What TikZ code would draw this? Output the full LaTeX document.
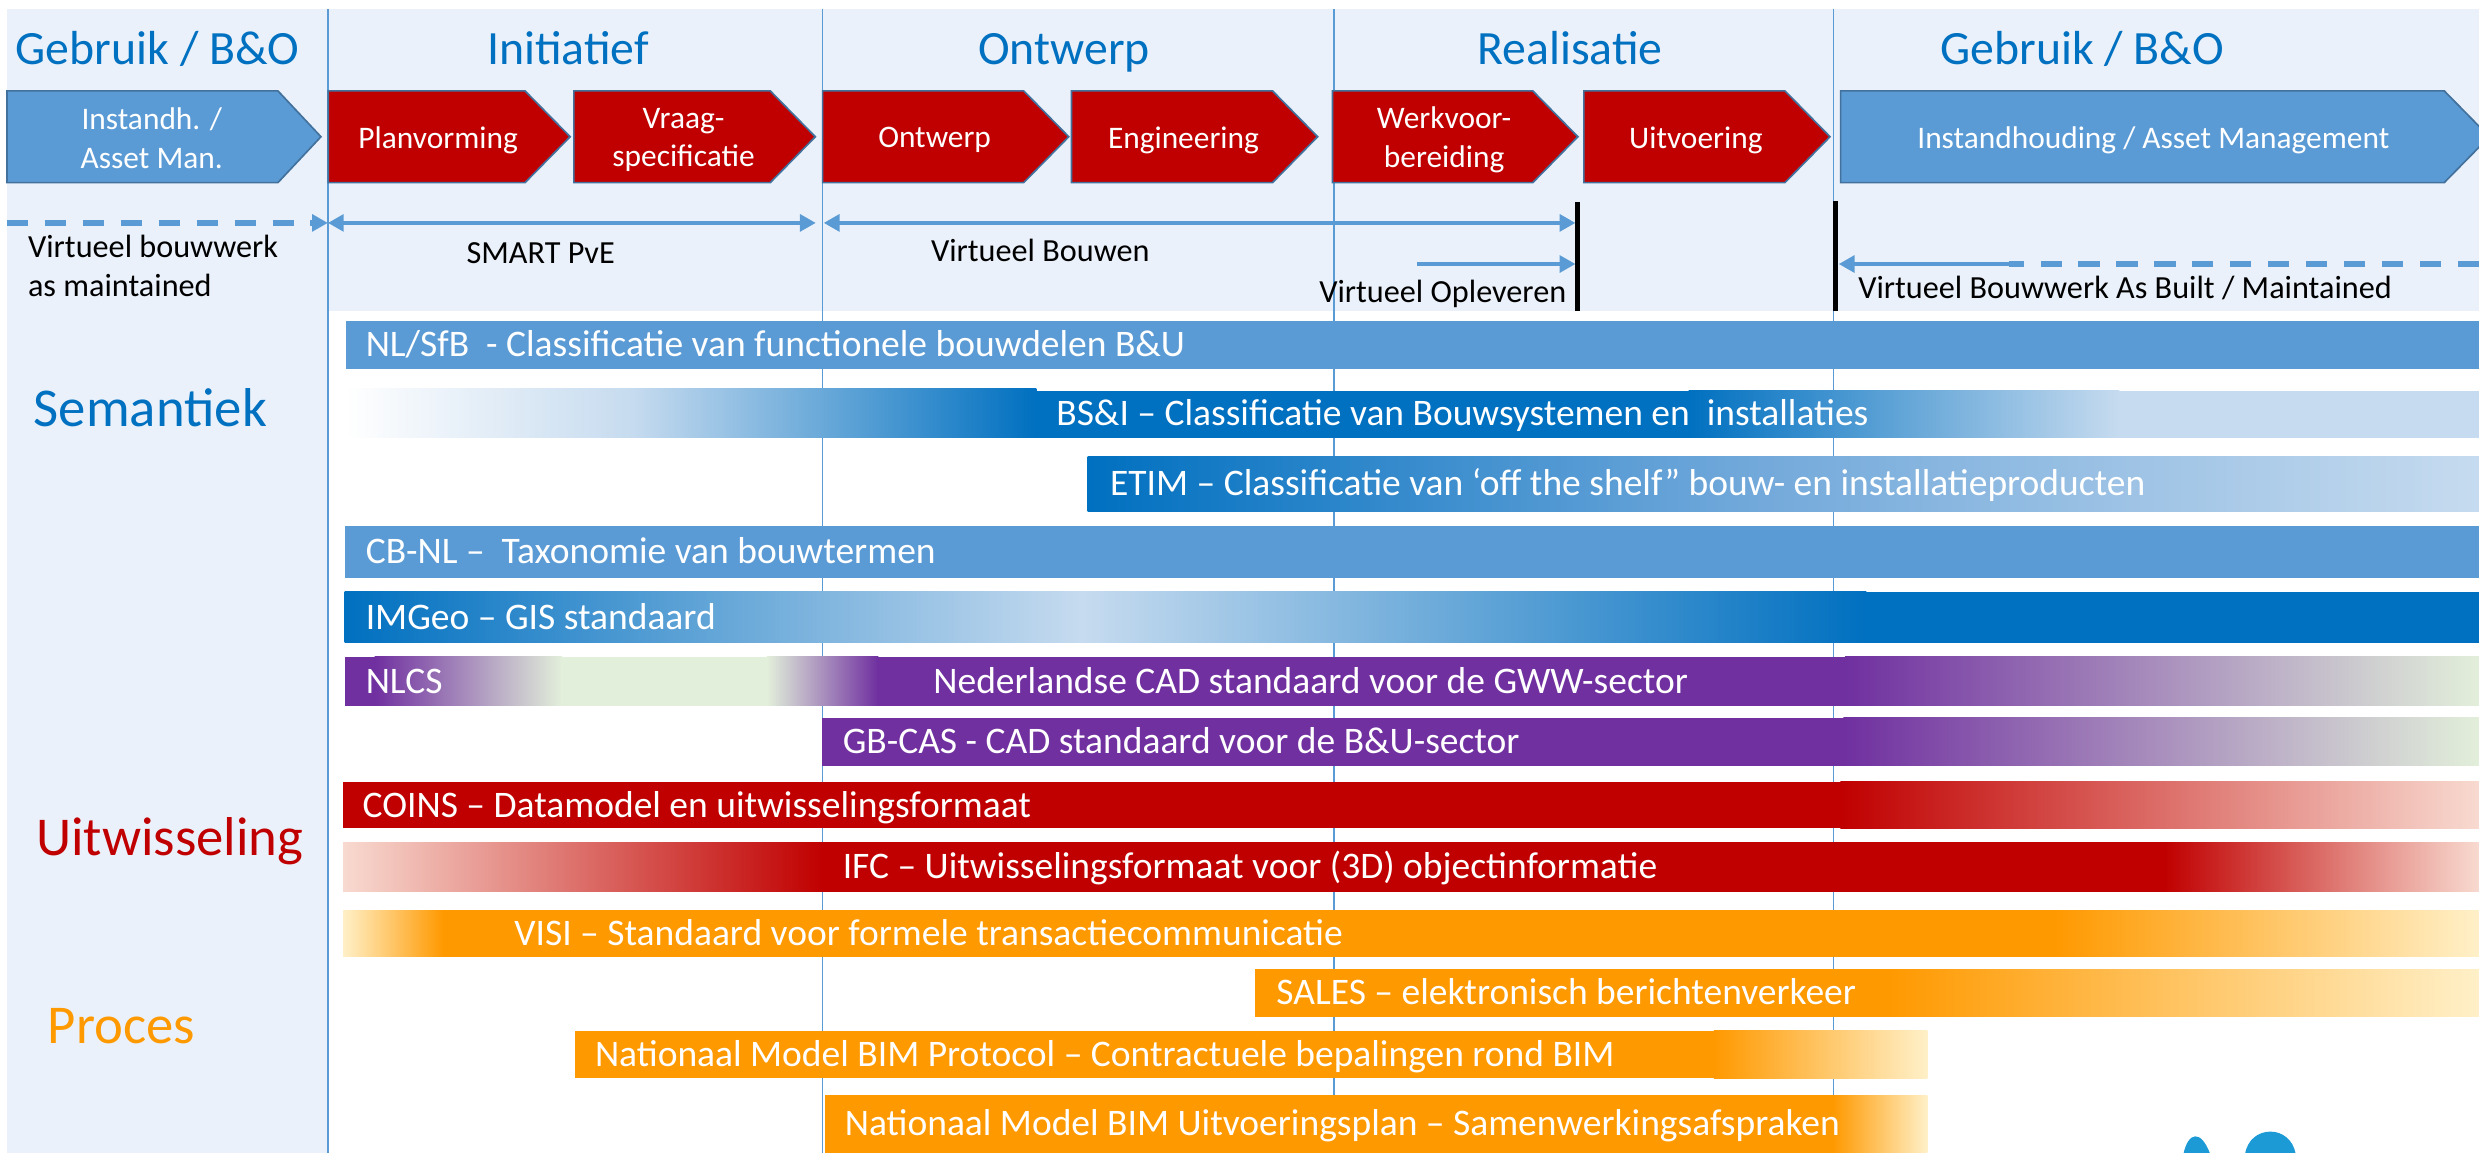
\documentclass[tikz,border=0pt]{standalone}
\usepackage{fontspec}
\setmainfont{Carlito}
\usetikzlibrary{arrows.meta}

\definecolor{hdrbg}{HTML}{EAF1FA}
\definecolor{titleblue}{HTML}{0070C0}
\definecolor{midblue}{HTML}{5B9BD5}
\definecolor{lightblue}{HTML}{C6DBEF}
\definecolor{chevborder}{HTML}{41719C}
\definecolor{darkred}{HTML}{C00000}
\definecolor{lightred}{HTML}{F8DAD0}
\definecolor{cadpurple}{HTML}{7030A0}
\definecolor{lightgreen}{HTML}{E2EFDA}
\definecolor{procorange}{HTML}{FF9900}
\definecolor{lightyellow}{HTML}{FFF0C8}
\definecolor{logoblue}{HTML}{1B9AD6}

\begin{document}
\begin{tikzpicture}[x=0.02cm, y=-0.02cm,
    header/.style={font=\fontsize{17.2}{20}\selectfont, text=titleblue, anchor=base, inner sep=0pt},
    chevtext/.style={font=\fontsize{11.3}{13.8}\selectfont, text=white, align=center, inner sep=0pt},
    note/.style={font=\fontsize{11.6}{14}\selectfont, anchor=base west, align=left, inner sep=0pt},
    bartext/.style={font=\fontsize{13.5}{16}\selectfont, text=white, anchor=base west, inner sep=0pt},
    side/.style={font=\fontsize{19.7}{23}\selectfont, anchor=base west, inner sep=0pt},
    phaseline/.style={midblue, line width=0.6pt},
    redchev/.style={fill=darkred, draw=chevborder, line width=0.6pt},
    bluechev/.style={fill=midblue, draw=chevborder, line width=0.6pt},
    flow/.style={midblue, line width=1.7pt},
    flowdash/.style={midblue, line width=2pt, dash pattern=on 0.268cm off 0.212cm},
    flowtip/.style={-{Triangle[length=0.2cm,width=0.21cm]}},
    bothtips/.style={{Triangle[length=0.2cm,width=0.21cm]}-{Triangle[length=0.2cm,width=0.21cm]}},
    grens/.style={black, line width=1.7pt}
  ]
\useasboundingbox (0,0) rectangle (1568,729);

% achtergrond en fasegrenzen
\fill[hdrbg] (4.4,5.7) rectangle (1568,197);
\fill[hdrbg] (4.4,197) rectangle (207.4,729);
\foreach \x in {207.4,520.2,843.7,1159.6}
  \draw[phaseline] (\x,5.7) -- (\x,729);

% fasen
\node[header] (hGebruikL) at (99.7,41) {Gebruik / B\&O};
\node[header] (hInit) at (359.3,41) {Initiatief};
\node[header] (hOntw) at (673,41) {Ontwerp};
\node[header] (hReal) at (993,41) {Realisatie};
\node[header] (hGebruikR) at (1317,41) {Gebruik / B\&O};

% pijlvormen
\filldraw[bluechev] (4.4,57.5) -- (175.8,57.5) -- (203,86.5) -- (175.8,115.5) -- (4.4,115.5) -- cycle;
\node[chevtext] (instL) at (96,87.5) {Instandh. /\\Asset Man.};
\foreach \name/\xa/\xb/\txt in {plan/207.6/360.6/Planvorming, vraag/363/515.7/{Vraag-\\specificatie},
    ontw/520.3/676/Ontwerp, eng/677.7/833.4/Engineering, werk/842.8/998/{Werkvoor-\\bereiding},
    uitv/1001.8/1157.5/Uitvoering}
{
  \filldraw[redchev] (\xa,57.5) -- (\xb-28.5,57.5) -- (\xb,86.5) -- (\xb-28.5,115.5) -- (\xa,115.5) -- cycle;
  \node[chevtext] (\name) at ({(\xa+\xb)/2-7},88.5) {\txt};
}
\filldraw[bluechev] (1164.2,57.5) -- (1546,57.5) -- (1574.5,86.5) -- (1546,115.5) -- (1164.2,115.5) -- cycle;
\node[chevtext] (instR) at (1362,89) {Instandhouding / Asset Management};

% virtueel bouwen
\coordinate (dashL) at (4.4,141);
\coordinate (smartL) at (207.4,141);
\coordinate (smartR) at (516,141);
\coordinate (bouwL) at (521,141);
\coordinate (bouwR) at (996.5,141);
\coordinate (oplA) at (896,167);
\coordinate (oplB) at (996.5,167);
\coordinate (grensAtop) at (998,128);
\coordinate (grensAbot) at (998,197);
\coordinate (grensBtop) at (1161,127);
\coordinate (grensBbot) at (1161,197);
\coordinate (builtA) at (1568,167);
\coordinate (builtB) at (1271,167);
\coordinate (builtC) at (1163,167);

\draw[flowdash, flowtip] (dashL) -- (smartL);
\draw[flow, bothtips] (smartL) -- (smartR);
\draw[flow, bothtips] (bouwL) -- (bouwR);
\draw[flow, flowtip] (oplA) -- (oplB);
\draw[grens] (grensAtop) -- (grensAbot);
\draw[grens] (grensBtop) -- (grensBbot);
\draw[flowdash] (builtA) -- (builtB);
\draw[flow, flowtip] (builtB) -- (builtC);

\node[note] (vbLinks) at (17.4,187.6) {Virtueel bouwwerk\\as maintained};
\node[note, anchor=base] (smart) at (342,166.5) {SMART PvE};
\node[note, anchor=base] (vbouwen) at (658,165.5) {Virtueel Bouwen};
\node[note, anchor=base east] (vopl) at (991,191.4) {Virtueel Opleveren};
\node[note] (asbuilt) at (1175,188.6) {Virtueel Bouwwerk As Built / Maintained};

% lagen
\node[side, text=titleblue] (sem) at (21,269.9) {Semantiek};
\node[side, text=darkred] (uitw) at (22.5,541.4) {Uitwisseling};
\node[side, text=procorange] (proc) at (30,659.9) {Proces};

% semantiek
\fill[midblue] (219,203) rectangle (1568,233.4);
\node[bartext] (nlsfb) at (231,225.7) {NL/SfB \ - Classificatie van functionele bouwdelen B\&U};

\shade[left color=white, right color=lightblue] (218,246) rectangle (400.5,277);
\shade[left color=lightblue, right color=titleblue] (400,246) rectangle (655.5,277);
\fill[titleblue] (655,247) rectangle (1068.5,277);
\shade[left color=titleblue, right color=lightblue] (1068,247) rectangle (1340.5,277);
\fill[lightblue] (1340,247) rectangle (1568,277);
\node[bartext] (bsi) at (667.8,269) {BS\&I – Classificatie van Bouwsystemen en \ installaties};

\shade[left color=titleblue, right color=midblue!80!lightblue] (688,288.5) rectangle (1100.5,323.7);
\shade[left color=midblue!80!lightblue, right color=lightblue] (1100,288.5) rectangle (1568,323.7);
\node[bartext] (etim) at (701.8,313.6) {ETIM – Classificatie van ‘off the shelf” bouw- en installatieproducten};

\fill[midblue] (218,332.7) rectangle (1568,365.5);
\node[bartext] (cbnl) at (231,356.6) {CB-NL – \ Taxonomie van bouwtermen};

\shade[left color=titleblue, right color=lightblue] (218,374.4) rectangle (684.5,406.6);
\shade[left color=lightblue, right color=titleblue] (684,374.4) rectangle (1180.5,406.6);
\fill[titleblue] (1180,374.4) rectangle (1568,406.6);
\node[bartext] (imgeo) at (231,398) {IMGeo – GIS standaard};

\fill[cadpurple] (218,415.5) rectangle (237.5,446.5);
\shade[left color=cadpurple, right color=lightgreen] (237,415.5) rectangle (355.5,446.5);
\fill[lightgreen] (355,415.5) rectangle (485.5,446.5);
\shade[left color=lightgreen, right color=cadpurple] (485,415.5) rectangle (555.5,446.5);
\fill[cadpurple] (555,415.5) rectangle (1167.5,446.5);
\shade[left color=cadpurple, right color=lightgreen] (1167,415.5) rectangle (1568,446.5);
\node[bartext] (nlcs) at (231,438.5) {NLCS};
\node[bartext] (nlcsgww) at (590,438.5) {Nederlandse CAD standaard voor de GWW-sector};

\fill[cadpurple] (520,454) rectangle (1166.5,484.3);
\shade[left color=cadpurple, right color=lightgreen] (1166,454) rectangle (1568,484.3);
\node[bartext] (gbcas) at (532.7,476.7) {GB-CAS - CAD standaard voor de B\&U-sector};

% uitwisseling
\fill[darkred] (217,494.6) rectangle (1164.5,524);
\shade[left color=darkred, right color=lightred] (1164,494.6) rectangle (1568,524);
\node[bartext] (coins) at (229,516.8) {COINS – Datamodel en uitwisselingsformaat};

\shade[left color=lightred, right color=darkred] (217,532.6) rectangle (520.5,564);
\fill[darkred] (520,532.6) rectangle (1369.5,564);
\shade[left color=darkred, right color=lightred] (1369,532.6) rectangle (1568,564);
\node[bartext] (ifc) at (532.7,555.8) {IFC – Uitwisselingsformaat voor (3D) objectinformatie};

% proces
\shade[left color=lightyellow, right color=procorange] (217,575.6) rectangle (280.5,605);
\fill[procorange] (280,575.6) rectangle (1300.5,605);
\shade[left color=procorange, right color=lightyellow] (1300,575.6) rectangle (1568,605);
\node[bartext] (visi) at (325,597.8) {VISI – Standaard voor formele transactiecommunicatie};

\fill[procorange] (794,613) rectangle (1194.5,643);
\shade[left color=procorange, right color=lightyellow] (1194,613) rectangle (1568,643);
\node[bartext] (sales) at (807,635.5) {SALES – elektronisch berichtenverkeer};

\fill[procorange] (363.7,652) rectangle (1084.5,682);
\shade[left color=procorange, right color=lightyellow] (1084,652) rectangle (1219,682);
\node[bartext] (bimprot) at (376,674.5) {Nationaal Model BIM Protocol – Contractuele bepalingen rond BIM};

\fill[procorange] (522,692.6) rectangle (1159.5,730);
\shade[left color=procorange, right color=lightyellow] (1159,692.6) rectangle (1219,730);
\node[bartext] (bimuitv) at (534,718) {Nationaal Model BIM Uitvoeringsplan – Samenwerkingsafspraken};

% logo (afgesneden)
\fill[logoblue] (1381,730) .. controls (1384,716) and (1392,714) .. (1398,730) -- cycle;
\fill[logoblue] (1420,730) .. controls (1423,711) and (1449,711) .. (1452,730) -- cycle;
\end{tikzpicture}
\end{document}
